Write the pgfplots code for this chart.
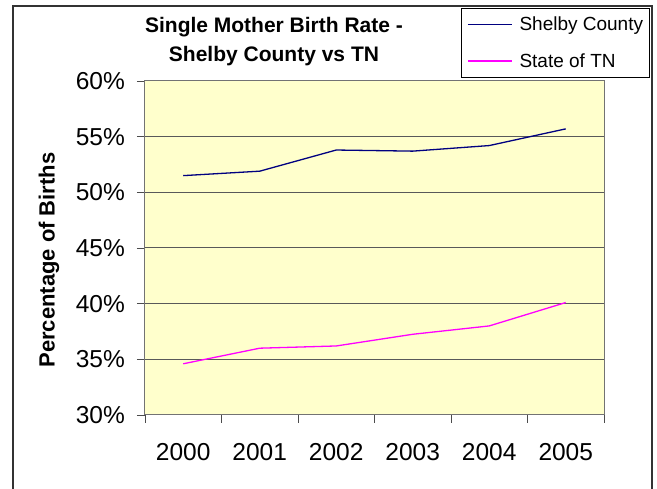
\documentclass[border=0pt]{standalone}
\usepackage{pgfplots}
\pgfplotsset{compat=1.18}
\usepackage{fontspec}
\setmainfont{Liberation Sans}
\definecolor{plotbg}{HTML}{FFFFCC}
\definecolor{shelby}{HTML}{000080}
\definecolor{tn}{HTML}{FF00FF}
\begin{document}
\begin{tikzpicture}[x=1pt,y=1pt]
\useasboundingbox (0,0) rectangle (657,489);
% outer chart frame (left, top, right)
\draw[line width=1.3pt,black!80] (13,0) -- (13,483) -- (652,483) -- (652,0);
% title
\node[anchor=base,font=\fontsize{21}{25}\selectfont\bfseries,inner sep=0pt] at (274,456) {Single Mother Birth Rate -};
\node[anchor=base,font=\fontsize{21}{25}\selectfont\bfseries,inner sep=0pt] at (274,427) {Shelby County vs TN};
\begin{axis}[
  at={(145pt,74pt)}, anchor=south west,
  scale only axis, width=459pt, height=334pt,
  xmin=0, xmax=6, ymin=30, ymax=60,
  xtick={0.5,1.5,2.5,3.5,4.5,5.5},
  xticklabels={2000,2001,2002,2003,2004,2005},
  major x tick style={draw=none},
  minor xtick={0,1,2,3,4,5,6},
  ytick={30,35,40,45,50,55,60},
  yticklabel={\pgfmathprintnumber{\tick}\%},
  xtick pos=bottom, ytick pos=left,
  tick align=outside,
  major tick length=8pt, minor tick length=8pt,
  tick style={black!70, line width=0.8pt},
  ymajorgrids, grid style={black!65, line width=1pt},
  axis background/.style={fill=plotbg},
  axis line style={black!55, line width=1pt},
  /pgf/number format/assume math mode=true,
  ticklabel style={font=\fontsize{24.5}{28}\selectfont},
  yticklabel style={anchor=east, inner sep=0pt, xshift=-12pt},
  xticklabel style={anchor=north, inner sep=0pt, yshift=-20pt},
  ylabel={Percentage of Births},
  ylabel style={at={(axis description cs:-0.209,0.464)}, anchor=center, font=\fontsize{22}{26}\selectfont\bfseries},
  legend style={at={(axis description cs:0.6885,1.2186)}, anchor=north west,
    draw=black, fill=white, font=\fontsize{19}{22}\selectfont,
    inner xsep=6pt, inner ysep=6pt, row sep=15pt, column sep=7pt,
    nodes={inner xsep=0pt, inner ysep=3pt},
    cells={anchor=west}},
  legend image code/.code={\draw[#1] (0pt,0pt) -- (44pt,0pt);},
]
\addplot[color=shelby, line width=1.3pt] coordinates {
  (0.5,51.5) (1.5,51.9) (2.5,53.8) (3.5,53.7) (4.5,54.2) (5.5,55.7)};
\addlegendentry{Shelby County}
\addplot[color=tn, line width=1.3pt] coordinates {
  (0.5,34.6) (1.5,36.0) (2.5,36.2) (3.5,37.25) (4.5,38.0) (5.5,40.1)};
\addlegendentry{State of TN}
\end{axis}
\end{tikzpicture}
\end{document}
